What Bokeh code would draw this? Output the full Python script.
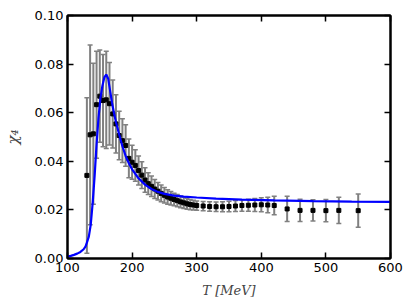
from bokeh.plotting import figure
from bokeh.models import LinearAxis, Range1d, Whisker, ColumnDataSource, TeeHead, FixedTicker
from bokeh.embed import file_html
from bokeh.resources import INLINE

# Data points (lattice) with error bars
T_data = [130, 135, 140, 145, 150, 155, 160, 165, 170, 175, 180, 185, 190, 195,
          200, 205, 210, 215, 220, 225, 230, 235, 240, 245, 250, 255, 260, 265,
          270, 275, 280, 285, 290, 295, 300, 310, 320, 330, 340, 350, 360, 370,
          380, 390, 400, 410, 420, 440, 460, 480, 500, 520, 550]
chi4_data = [0.0342, 0.0509, 0.0513, 0.0633, 0.0668, 0.0650, 0.0653, 0.0637, 0.0595,
             0.0554, 0.0506, 0.0485, 0.0465, 0.0412, 0.0396, 0.0383, 0.0362, 0.0343,
             0.0323, 0.0308, 0.0297, 0.0286, 0.0277, 0.0268, 0.0260, 0.0253, 0.0248,
             0.0243, 0.0238, 0.0233, 0.0229, 0.0225, 0.0222, 0.0220, 0.0218, 0.0216,
             0.0214, 0.0213, 0.0213, 0.0214, 0.0216, 0.0218, 0.0219, 0.0220, 0.0221,
             0.0220, 0.0218, 0.0204, 0.0198, 0.0198, 0.0197, 0.0198, 0.0197]
chi4_err = [0.032, 0.037, 0.029, 0.022, 0.019, 0.019, 0.020, 0.017, 0.014, 0.012,
            0.010, 0.009, 0.0085, 0.008, 0.007, 0.0065, 0.006, 0.0055, 0.005, 0.0045,
            0.0042, 0.0039, 0.0036, 0.0034, 0.0032, 0.003, 0.0028, 0.0026, 0.0025,
            0.0024, 0.0023, 0.0022, 0.0021, 0.002, 0.0019, 0.0019, 0.002, 0.002,
            0.0021, 0.0022, 0.0023, 0.0024, 0.0025, 0.0027, 0.0029, 0.0032, 0.0038,
            0.0052, 0.0046, 0.0044, 0.0046, 0.0054, 0.0068]

# Model curve
T_model = [100, 105, 110, 115, 120, 125, 128, 130, 133, 136, 139, 142, 145, 148,
           151, 154, 157, 160, 163, 166, 169, 172, 175, 180, 185, 190, 195, 200,
           210, 220, 230, 240, 250, 265, 280, 300, 330, 370, 420, 480, 540, 600]
chi4_model = [0.0008, 0.0011, 0.0015, 0.0020, 0.0027, 0.0038, 0.0050, 0.0065, 0.0090,
              0.0140, 0.0230, 0.0340, 0.0470, 0.0580, 0.0660, 0.0710, 0.0745, 0.0757,
              0.0740, 0.0690, 0.0640, 0.0598, 0.0562, 0.0510, 0.0462, 0.0422, 0.0392,
              0.0367, 0.0330, 0.0304, 0.0286, 0.0274, 0.0266, 0.0259, 0.0255, 0.0251,
              0.0246, 0.0242, 0.0239, 0.0236, 0.0234, 0.0233]

x_ticks = [100, 200, 300, 400, 500, 600]
y_ticks = [0.0, 0.02, 0.04, 0.06, 0.08, 0.10]
y_tick_labels = {0.0: "0.00", 0.02: "0.02", 0.04: "0.04", 0.06: "0.06", 0.08: "0.08", 0.10: "0.10"}

p = figure(width=411, height=308, output_backend="svg", toolbar_location=None,
           x_range=Range1d(100, 600), y_range=Range1d(0, 0.10),
           min_border_left=65, min_border_right=21, min_border_top=15, min_border_bottom=50,
           x_axis_location=None, y_axis_location=None)
p.background_fill_color = "white"
p.border_fill_color = "white"
p.outline_line_color = "black"
p.outline_line_width = 2
p.xgrid.visible = False
p.ygrid.visible = False

font = "DejaVu Sans"

def style_axis(ax, ticks, labels=True):
    ax.ticker = FixedTicker(ticks=ticks)
    ax.major_tick_in = 6
    ax.major_tick_out = 0
    ax.minor_tick_line_color = None
    ax.major_tick_line_color = "black"
    ax.major_tick_line_width = 1.5
    ax.axis_line_color = "black"
    ax.axis_line_width = 2
    ax.major_label_text_font = font
    if labels:
        ax.major_label_text_color = "black"
        ax.major_label_text_font_size = "13px"
        ax.major_label_standoff = 4
    else:
        ax.major_label_text_color = None
        ax.major_label_text_font_size = "0px"
        ax.major_label_standoff = 0

xb = LinearAxis(axis_label="T [MeV]")
style_axis(xb, x_ticks)
xb.axis_label_text_font = "DejaVu Serif"
xb.axis_label_text_font_style = "italic"
xb.axis_label_text_font_size = "13px"
xb.axis_label_standoff = 8
p.add_layout(xb, "below")

xt = LinearAxis()
style_axis(xt, x_ticks, labels=False)
p.add_layout(xt, "above")

yl = LinearAxis(axis_label="χ₄")
style_axis(yl, y_ticks)
yl.major_label_overrides = y_tick_labels
yl.axis_label_text_font = "DejaVu Serif"
yl.axis_label_text_font_style = "italic"
yl.axis_label_text_font_size = "15px"
yl.axis_label_standoff = 10
p.add_layout(yl, "left")

yr = LinearAxis()
style_axis(yr, y_ticks, labels=False)
p.add_layout(yr, "right")

lower = [v - e for v, e in zip(chi4_data, chi4_err)]
upper = [v + e for v, e in zip(chi4_data, chi4_err)]
src = ColumnDataSource(data=dict(x=T_data, y=chi4_data, lo=lower, hi=upper))

w = Whisker(source=src, base="x", lower="lo", upper="hi",
            line_color="#808080", line_width=2,
            upper_head=TeeHead(size=5, line_color="#808080", line_width=1.5),
            lower_head=TeeHead(size=5, line_color="#808080", line_width=1.5))
p.add_layout(w)

p.scatter("x", "y", source=src, marker="square", size=4, color="black")

p.line(T_model, chi4_model, line_color="#0000ff", line_width=2.2)

open("out.html", "w").write(file_html(p, INLINE))
